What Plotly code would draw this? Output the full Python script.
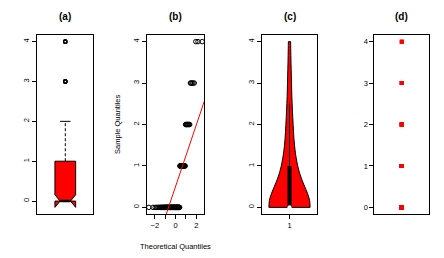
import numpy as np
import plotly.graph_objects as go
from statistics import NormalDist

# ---- data ----
values = [0, 1, 2, 3, 4]
counts = [66, 17, 9, 5, 3]
titles = ["(a)", "(b)", "(c)", "(d)"]
y_ticks = [0, 1, 2, 3, 4]
qq_ticks = [-2, -1, 0, 1, 2]
qq_ticktext = ["\u22122", "", "0", "", "2"]
violin_bandwidth = 0.5

y = np.repeat(values, counts).astype(float)
n = len(y)

W, H = 444, 258
def xd(a, b):
    return [a / W, b / W]
def yd(top, bot):
    return [1 - bot / H, 1 - top / H]

TOP, BOT = 35, 214
panels = [(37.3, 93.3), (146.7, 204.3), (261.7, 317.3), (374.3, 429.3)]

fig = go.Figure()

# ---- stats ----
q1, med, q3 = np.percentile(y, [25, 50, 75])
iqr = q3 - q1
nlo = med - 1.58 * iqr / np.sqrt(n)
nhi = med + 1.58 * iqr / np.sqrt(n)
up_w = y[y <= q3 + 1.5 * iqr].max()
lo_w = y[y >= q1 - 1.5 * iqr].min()
outl = y[(y > up_w) | (y < lo_w)]

def ext(lo, hi):
    d = (hi - lo) * 0.04
    return [lo - d, hi + d]

# ---- (a) notched boxplot ----
bw, nw = 0.2, 0.1
bx = [1 - bw, 1 - bw, 1 - nw, 1 - bw, 1 - bw, 1 + bw, 1 + bw, 1 + nw, 1 + bw, 1 + bw, 1 - bw]
by = [q1, nlo, med, nhi, q3, q3, nhi, med, nlo, q1, q1]
fig.add_trace(go.Scatter(x=[1, 1], y=[q3, up_w], mode="lines",
                         line=dict(color="black", width=1, dash="3px,2px"), xaxis="x", yaxis="y"))
fig.add_trace(go.Scatter(x=[1 - nw, 1 + nw], y=[up_w, up_w], mode="lines",
                         line=dict(color="black", width=1), xaxis="x", yaxis="y"))
fig.add_trace(go.Scatter(x=bx, y=by, mode="lines", fill="toself", fillcolor="red",
                         line=dict(color="black", width=1), xaxis="x", yaxis="y"))
fig.add_trace(go.Scatter(x=[1 - nw, 1 + nw], y=[med, med], mode="lines",
                         line=dict(color="black", width=2.5), xaxis="x", yaxis="y"))
fig.add_trace(go.Scatter(x=np.ones(len(outl)), y=outl, mode="markers",
                         marker=dict(symbol="circle-open", size=3.5, color="black", line=dict(width=1.2)),
                         xaxis="x", yaxis="y"))

# ---- (b) normal QQ plot ----
nd = NormalDist()
theo = np.array([nd.inv_cdf((i - 0.5) / n) for i in range(1, n + 1)])
ys = np.sort(y)
fig.add_trace(go.Scatter(x=theo, y=ys, mode="markers",
                         marker=dict(symbol="circle-open", size=4.5, color="black", line=dict(width=1)),
                         xaxis="x2", yaxis="y2"))
tq1, tq3 = nd.inv_cdf(0.25), nd.inv_cdf(0.75)
slope = (q3 - q1) / (tq3 - tq1)
icpt = q1 - slope * tq1
xr = ext(theo.min(), theo.max())
fig.add_trace(go.Scatter(x=xr, y=[icpt + slope * v for v in xr], mode="lines",
                         line=dict(color="red", width=1), xaxis="x2", yaxis="y2"))

# ---- (c) violin ----
fig.add_trace(go.Violin(x0=1, y=y, bandwidth=violin_bandwidth, spanmode="manual",
                        span=[y.min(), y.max()],
                        scalemode="width", width=0.8, fillcolor="red",
                        line=dict(color="black", width=1), points=False,
                        box_visible=False, meanline_visible=False,
                        xaxis="x3", yaxis="y3"))
lo_adj = max(y.min(), q1 - 1.5 * iqr)
up_adj = min(y.max(), q3 + 1.5 * iqr)
fig.add_trace(go.Scatter(x=[1, 1], y=[lo_adj, up_adj], mode="lines",
                         line=dict(color="black", width=1), xaxis="x3", yaxis="y3"))
fig.add_trace(go.Scatter(x=[1, 1], y=[q1, q3], mode="lines",
                         line=dict(color="black", width=4), xaxis="x3", yaxis="y3"))
fig.add_trace(go.Scatter(x=[1], y=[med], mode="markers",
                         marker=dict(color="white", size=4), xaxis="x3", yaxis="y3"))

# ---- (d) strip chart ----
fig.add_trace(go.Scatter(x=np.ones(n), y=y, mode="markers",
                         marker=dict(symbol="square", size=4, color="red"),
                         xaxis="x4", yaxis="y4"))

font = dict(family="Liberation Sans, Arial, sans-serif", color="black")
axbase = dict(showline=True, linecolor="black", linewidth=1, mirror=True, showgrid=False,
              zeroline=False, ticks="outside", ticklen=4, tickcolor="black", tickwidth=1,
              tickfont=dict(size=7.5, **font))

yr_a = ext(min(nlo, y.min()), max(nhi, y.max()))
yr = ext(y.min(), y.max())
layout = dict(width=W, height=H, margin=dict(l=0, r=0, t=0, b=0), autosize=False,
              paper_bgcolor="white", plot_bgcolor="white", showlegend=False,
              hovermode=False)

xranges = [[0.46, 1.54], xr, [0.46, 1.54], [0.46, 1.54]]
yranges = [yr_a, yr, yr, yr]
for i in range(4):
    s = "" if i == 0 else str(i + 1)
    xa = dict(axbase, domain=xd(*panels[i]), range=xranges[i], anchor="y" + s)
    if i == 1:
        xa.update(tickvals=qq_ticks, ticktext=qq_ticktext)
    elif i == 2:
        xa.update(tickvals=[1], ticktext=["1"])
    else:
        xa.update(showticklabels=False, ticks="")
    ya = dict(axbase, domain=yd(TOP, BOT), range=yranges[i], anchor="x" + s,
              tickvals=y_ticks, tickangle=(0 if i == 3 else -90))
    layout["xaxis" + s] = xa
    layout["yaxis" + s] = ya

ann = []
for i, t in enumerate(titles):
    cx = (panels[i][0] + panels[i][1]) / 2 / W
    ann.append(dict(text="<b>%s</b>" % t, x=cx, y=1 - 16.5 / H, xref="paper", yref="paper",
                    showarrow=False, font=dict(size=10, **font), xanchor="center", yanchor="middle"))
cb = (panels[1][0] + panels[1][1]) / 2 / W
ann.append(dict(text="Theoretical Quantiles", x=cb, y=1 - 246 / H, xref="paper", yref="paper",
                showarrow=False, font=dict(size=7.5, **font), xanchor="center", yanchor="middle"))
ann.append(dict(text="Sample Quantiles", x=117.5 / W, y=1 - 124.5 / H, xref="paper", yref="paper",
                showarrow=False, textangle=-90, font=dict(size=7.5, **font),
                xanchor="center", yanchor="middle"))
layout["annotations"] = ann
fig.update_layout(**layout)
fig.write_html("out.html", config={"displayModeBar": False, "staticPlot": True},
               post_script="document.body.style.margin='0';document.body.style.padding='0';")
